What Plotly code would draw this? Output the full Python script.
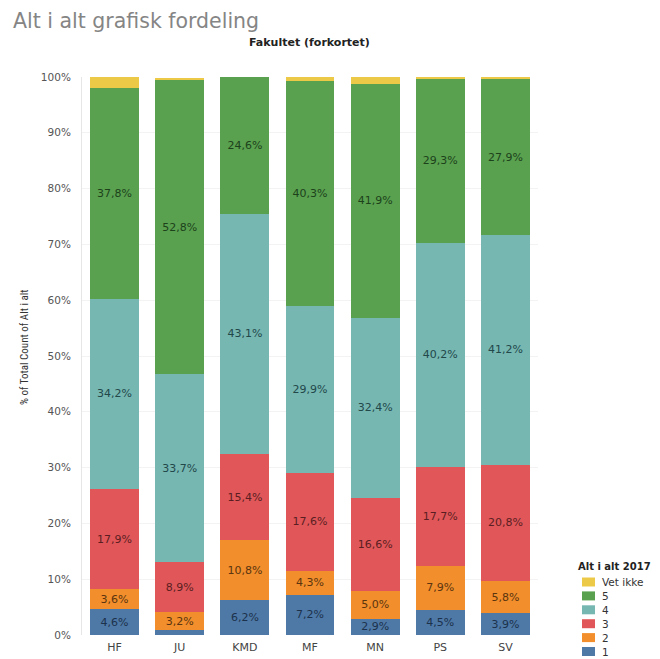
import plotly.graph_objects as go

categories = ["HF", "JU", "KMD", "MF", "MN", "PS", "SV"]
series_names = ["1", "2", "3", "4", "5", "Vet ikke"]
v1 = [4.6, 0.9, 6.2, 7.2, 2.9, 4.5, 3.9]
v2 = [3.6, 3.2, 10.8, 4.3, 5.0, 7.9, 5.8]
v3 = [17.9, 8.9, 15.4, 17.6, 16.6, 17.7, 20.8]
v4 = [34.2, 33.7, 43.1, 29.9, 32.4, 40.2, 41.2]
v5 = [37.8, 52.8, 24.6, 40.3, 41.9, 29.3, 27.9]
v_vet = [1.9, 0.4, 0.0, 0.7, 1.2, 0.4, 0.4]
y_ticks = [0, 10, 20, 30, 40, 50, 60, 70, 80, 90, 100]
y_tick_labels = [f"{t}%" for t in y_ticks]

series_values = [v1, v2, v3, v4, v5, v_vet]
colors = ["#4E79A7", "#F28E2B", "#E15759", "#76B7B2", "#59A14F", "#EDC948"]
text_colors = ["#1c324c", "#5a3510", "#5a1e22", "#22484a", "#1d421b", "#4a3d10"]

FONT = "DejaVu Sans"

fig = go.Figure()
for name, vals, col, tcol in zip(series_names, series_values, colors, text_colors):
    labels = [(f"{v:.1f}".replace(".", ",") + "%") if v >= 2 else "" for v in vals]
    fig.add_trace(go.Bar(
        x=categories, y=vals, name=name,
        marker=dict(color=col, line=dict(width=0)),
        text=labels, textposition="inside", insidetextanchor="middle",
        textangle=0, constraintext="none",
        textfont=dict(family=FONT, size=11, color=tcol),
        showlegend=False,
        hovertemplate="%{x}: %{y:.1f}%<extra>" + name + "</extra>",
    ))

# page body has an 8px margin: work in reference pixels and shift by 8
OFF = 8
W, H = 660 - OFF, 659 - OFF
L = 82 - OFF
T = 77 - OFF
B = H - (635 - OFF)
R = W - (538 - OFF)
pw, ph = W - L - R, H - T - B

def px(x):
    return (x - OFF - L) / pw

def py(y):
    return (H - B - (y - OFF)) / ph

annotations = [
    dict(text="Alt i alt grafisk fordeling", xref="paper", yref="paper",
         x=px(11), y=py(21), xanchor="left", yanchor="middle", showarrow=False,
         font=dict(family=FONT, size=20.5, color="#858585")),
    dict(text="<b>Fakultet (forkortet)</b>", xref="paper", yref="paper",
         x=px(309), y=py(43), xanchor="center", yanchor="middle", showarrow=False,
         font=dict(family=FONT, size=11, color="#222222")),
    dict(text="% of Total Count of Alt i alt", xref="paper", yref="paper",
         x=px(24), y=py(347), xanchor="center", yanchor="middle", showarrow=False,
         textangle=-90,
         font=dict(family="Liberation Sans Narrow, Roboto Condensed, Roboto", size=11, color="#333333")),
    dict(text="<b>Alt i alt 2017</b>", xref="paper", yref="paper",
         x=px(576), y=py(566), xanchor="left", yanchor="middle", showarrow=False,
         font=dict(family=FONT, size=10, color="#222222")),
]
shapes = []
legend_order = ["Vet ikke", "5", "4", "3", "2", "1"]
for i, name in enumerate(legend_order):
    idx = series_names.index(name)
    yc = 582 + i * 13.9
    shapes.append(dict(type="rect", xref="paper", yref="paper",
                       x0=px(582), x1=px(595), y0=py(yc + 4.5), y1=py(yc - 4.5),
                       fillcolor=colors[idx], line=dict(width=0)))
    annotations.append(dict(text=name, xref="paper", yref="paper",
                            x=px(600), y=py(yc), xanchor="left", yanchor="middle",
                            showarrow=False,
                            font=dict(family=FONT, size=10.5, color="#333333")))

fig.update_layout(
    width=W, height=H,
    margin=dict(l=L, r=R, t=T, b=B, pad=0),
    barmode="stack", bargap=0.25,
    plot_bgcolor="white", paper_bgcolor="white",
    font=dict(family=FONT, size=10, color="#555555"),
    annotations=annotations, shapes=shapes,
    xaxis=dict(showgrid=False, showline=False, ticks="", automargin=False,
               tickfont=dict(family=FONT, size=11, color="#444444"),
               ticklabelstandoff=4),
    yaxis=dict(range=[0, 100], tickvals=y_ticks, ticktext=y_tick_labels,
               automargin=False,
               showgrid=True, gridcolor="#f3f3f3", zeroline=False,
               showline=True, linecolor="#e6e6e6", ticks="",
               tickfont=dict(family=FONT, size=10.5, color="#555555"), ticklabelstandoff=8),
)

fig.write_html("out.html")
